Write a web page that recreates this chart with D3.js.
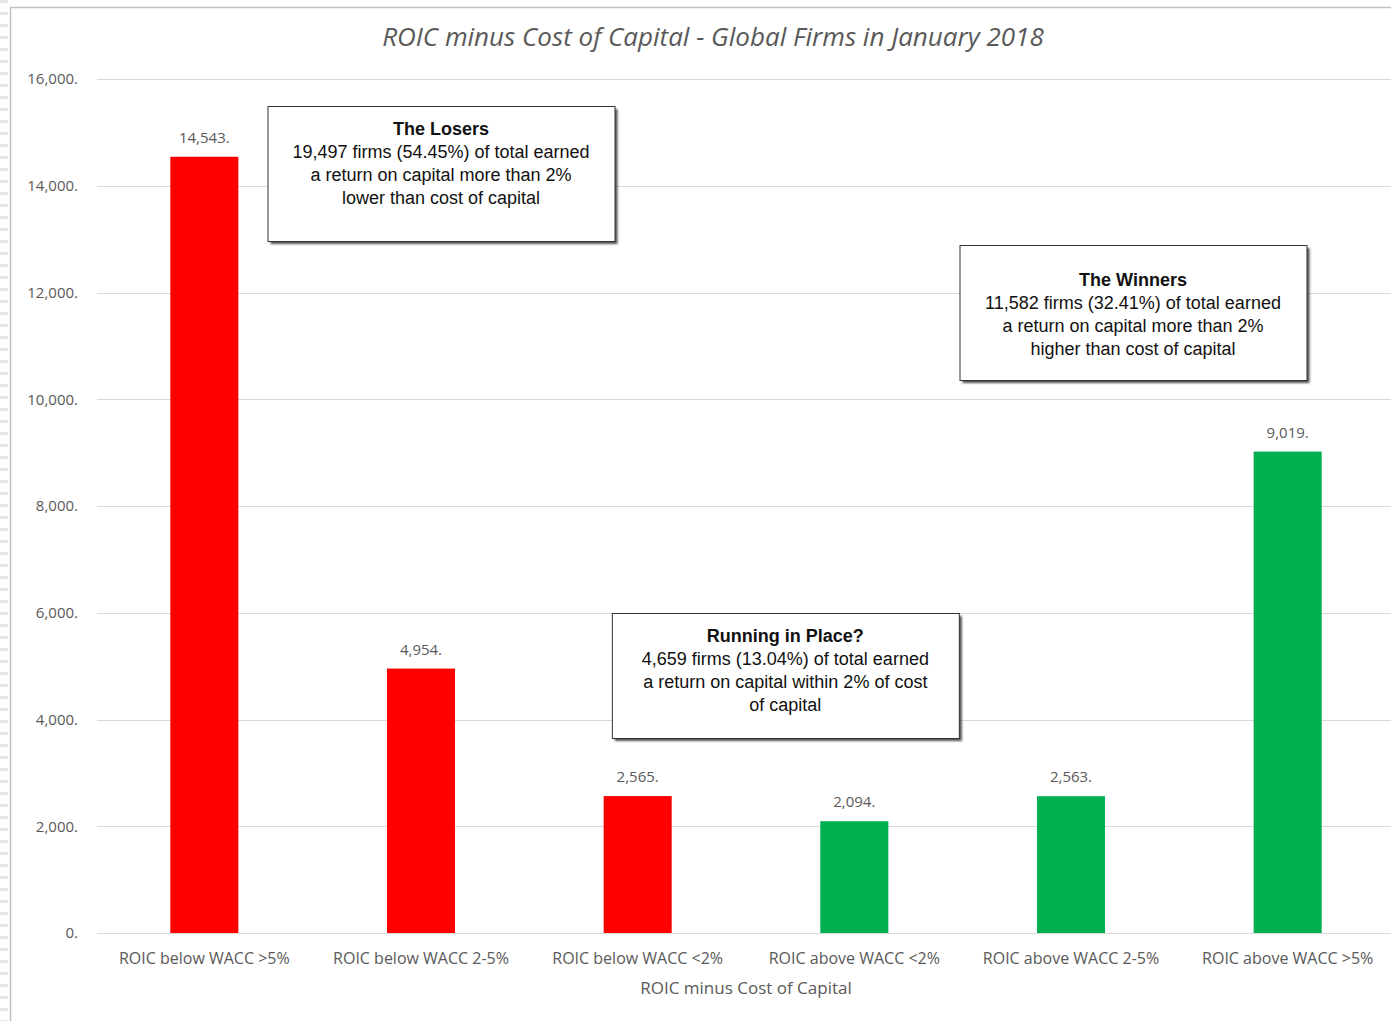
<!DOCTYPE html>
<html>
<head>
<meta charset="utf-8">
<title>ROIC minus Cost of Capital</title>
<script src="https://cdn.jsdelivr.net/npm/d3@7"></script>
<style>
body { margin: 0; background: #fff; }
svg text { font-family: "Open Sans", Lato, sans-serif; }
.note text { font-family: "Liberation Sans", Arial, sans-serif; fill: #111; }
</style>
</head>
<body>
<script>
var categories = ["ROIC below WACC >5%", "ROIC below WACC 2-5%", "ROIC below WACC <2%",
                  "ROIC above WACC <2%", "ROIC above WACC 2-5%", "ROIC above WACC >5%"];
var firms = [14543, 4954, 2565, 2094, 2563, 9019];
var barColors = ["#ff0000", "#ff0000", "#ff0000", "#00b050", "#00b050", "#00b050"];
var yTicks = [0, 2000, 4000, 6000, 8000, 10000, 12000, 14000, 16000];

// annotation boxes: anchored to category index / value
var notes = [
  {cat: 1, val: 15500, title: "The Losers",
   lines: ["19,497 firms (54.45%) of total earned", "a return on capital more than 2%", "lower than cost of capital"]},
  {cat: 4, val: 12890, title: "The Winners",
   lines: ["11,582 firms (32.41%) of total earned", "a return on capital more than  2%", "higher than cost of capital"]},
  {cat: 3, val: 6000, title: "Running in Place?",
   lines: ["4,659 firms (13.04%) of total earned", "a return on capital within 2% of cost", "of capital"]}
];

var w = 1391, h = 1021;
var svg = d3.select("body").append("svg").attr("width", w).attr("height", h);

var defs = svg.append("defs");
defs.append("filter").attr("id", "blur").append("feGaussianBlur").attr("stdDeviation", 1.2);

// left strip + frame
svg.append("line").attr("x1", 4).attr("x2", 4).attr("y1", 0).attr("y2", h)
  .attr("stroke", "#e6e6e6").attr("stroke-width", 8).attr("stroke-dasharray", "3,9");
svg.append("path").attr("d", "M10.5," + h + "V7.5H" + w)
  .attr("fill", "none").attr("stroke", "#c0c0c0").attr("stroke-width", 1.5);

var x = d3.scaleBand().domain(categories).range([96, 1396])
  .paddingInner(0.686).paddingOuter(0.343);
var y = d3.scaleLinear().domain([0, 16000]).range([933, 79]);

// gridlines
svg.append("g").selectAll("line").data(yTicks).enter().append("line")
  .attr("x1", 97).attr("x2", w)
  .attr("y1", function(d){ return Math.round(y(d)) + 0.5; })
  .attr("y2", function(d){ return Math.round(y(d)) + 0.5; })
  .attr("stroke", "#d9d9d9").attr("stroke-width", 1);

// y axis labels
var yAxis = d3.axisLeft(y).tickValues(yTicks).tickSize(0).tickPadding(0)
  .tickFormat(function(d){ return d3.format(",")(d) + "."; });
var ya = svg.append("g").attr("transform", "translate(78,0)").call(yAxis);
ya.select(".domain").remove();
ya.selectAll("text").attr("font-size", 15).attr("fill", "#595959")
  .style("font-family", "'Open Sans', sans-serif");

// bars
svg.append("g").selectAll("rect").data(firms).enter().append("rect")
  .attr("x", function(d, i){ return x(categories[i]); })
  .attr("width", x.bandwidth())
  .attr("y", function(d){ return y(d); })
  .attr("height", function(d){ return y(0) - y(d); })
  .attr("fill", function(d, i){ return barColors[i]; });

// value labels
svg.append("g").selectAll("text").data(firms).enter().append("text")
  .attr("x", function(d, i){ return x(categories[i]) + x.bandwidth() / 2; })
  .attr("y", function(d){ return y(d) - 14; })
  .attr("text-anchor", "middle").attr("font-size", 15).attr("fill", "#595959")
  .text(function(d){ return d3.format(",")(d) + "."; });

// x axis labels
var xAxis = d3.axisBottom(x).tickSize(0).tickPadding(0);
var xa = svg.append("g").attr("transform", "translate(0,953)").call(xAxis);
xa.select(".domain").remove();
xa.selectAll("text").attr("font-size", 16).attr("fill", "#595959")
  .style("font-family", "'Open Sans', sans-serif");

// axis title
svg.append("text").attr("x", 746).attr("y", 994).attr("text-anchor", "middle")
  .attr("font-size", 17).attr("fill", "#595959").text("ROIC minus Cost of Capital");

// chart title
svg.append("text").attr("x", 713).attr("y", 46).attr("text-anchor", "middle")
  .attr("font-size", 26).attr("font-style", "italic").attr("fill", "#595959")
  .text("ROIC minus Cost of Capital - Global Firms in January 2018");

// annotation boxes
var bw = 347;
var g = svg.append("g").attr("class", "note").selectAll("g").data(notes).enter().append("g")
  .attr("transform", function(d){
    var cx = x(categories[d.cat]) + x.bandwidth() / 2 + (d.cat == 1 ? 20 : d.cat == 4 ? 62 : -69);
    return "translate(" + (cx - bw / 2) + "," + Math.round(y(d.val)) + ")";
  });
g.append("rect").attr("x", 3).attr("y", 3).attr("width", bw).attr("height", function(d){ return d.cat == 3 ? 125 : 135; })
  .attr("fill", "#333").attr("opacity", 0.85).attr("filter", "url(#blur)");
g.append("rect").attr("x", 0.5).attr("y", 0.5).attr("width", bw).attr("height", function(d){ return d.cat == 3 ? 125 : 135; })
  .attr("fill", "#fff").attr("stroke", "#333").attr("stroke-width", 1);
g.append("text").attr("x", bw / 2).attr("y", function(d){ return d.cat == 4 ? 41 : 29; })
  .attr("text-anchor", "middle").attr("font-size", 18).attr("font-weight", "bold")
  .text(function(d){ return d.title; });
g.each(function(d){
  var sel = d3.select(this);
  d.lines.forEach(function(l, i){
    sel.append("text").attr("x", bw / 2).attr("y", (d.cat == 4 ? 64 : 52) + i * 23)
      .attr("text-anchor", "middle").attr("font-size", 18).text(l);
  });
});
</script>
</body>
</html>
